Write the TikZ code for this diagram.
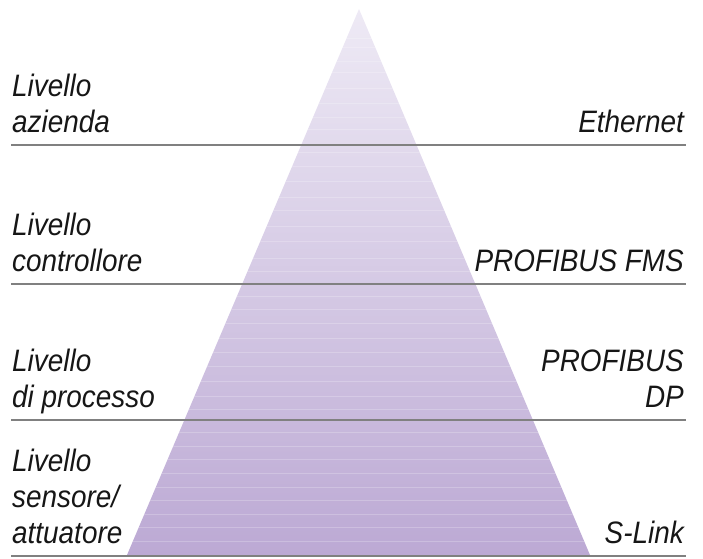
\documentclass[tikz,border=0pt]{standalone}
\usepackage{fontspec}
\newfontfamily\lvlfont{Liberation Sans}[FakeStretch=0.9]
\usetikzlibrary{calc}

\definecolor{pyrtop}{HTML}{EEEAF5}
\definecolor{pyrbot}{HTML}{BCA9D4}
\definecolor{sepgray}{HTML}{808080}
\definecolor{txtgray}{HTML}{161616}

\tikzset{
  lvl/.style={font=\lvlfont\itshape\fontsize{31}{36}\selectfont, text=txtgray, inner sep=0pt, text depth=0pt},
  lvlleft/.style={lvl, align=left, anchor=south west},
  lvlright/.style={lvl, align=right, anchor=south east},
  sepline/.style={draw=sepgray, line width=2.8pt}
}

\begin{document}
\begin{tikzpicture}[x=1pt,y=-1pt]
  \useasboundingbox (0,0) rectangle (703,558);

  % pyramid
  \coordinate (apex) at (359,9);
  \coordinate (bl) at (127,555);
  \coordinate (br) at (590,555);
  \shade [top color=pyrtop, bottom color=pyrbot] (apex) -- (br) -- (bl) -- cycle;
  \begin{scope}
    \clip (apex) -- (br) -- (bl) -- cycle;
    \foreach \y in {38,47,61,72,88,103,117,129,152,166,181,197,210,226,241,258,271,296,309,323,338,352,366,381,396,409,432,446,459,473,487,500,514,527,541}
      \draw [white, opacity=0.22, line width=0.7pt] (100,\y) -- (620,\y);
  \end{scope}

  % separator lines
  \coordinate (s1w) at (11,145);  \coordinate (s1e) at (686,145);
  \coordinate (s2w) at (11,284);  \coordinate (s2e) at (686,284);
  \coordinate (s3w) at (11,420);  \coordinate (s3e) at (686,420);
  \coordinate (s4w) at (11,556);  \coordinate (s4e) at (686,556);
  \draw [sepline] (s1w) -- (s1e);
  \draw [sepline] (s2w) -- (s2e);
  \draw [sepline] (s3w) -- (s3e);
  \draw [sepline] (s4w) -- (s4e);

  % levels
  \node [lvlleft] (azienda) at ($(s1w)+(1,-12)$) {Livello\\azienda};
  \node [lvlleft] (controllore) at ($(s2w)+(1,-12)$) {Livello\\controllore};
  \node [lvlleft] (processo) at ($(s3w)+(1,-12)$) {Livello\\di processo};
  \node [lvlleft] (sensore) at ($(s4w)+(1,-12)$) {Livello\\sensore/\\attuatore};

  % networks
  \node [lvlright] (ethernet) at ($(s1e)+(-2,-12)$) {Ethernet};
  \node [lvlright] (fms) at ($(s2e)+(-2,-12)$) {PROFIBUS FMS};
  \node [lvlright] (dp) at ($(s3e)+(-2,-12)$) {PROFIBUS\\DP};
  \node [lvlright] (slink) at ($(s4e)+(-2,-12)$) {S-Link};
\end{tikzpicture}
\end{document}
